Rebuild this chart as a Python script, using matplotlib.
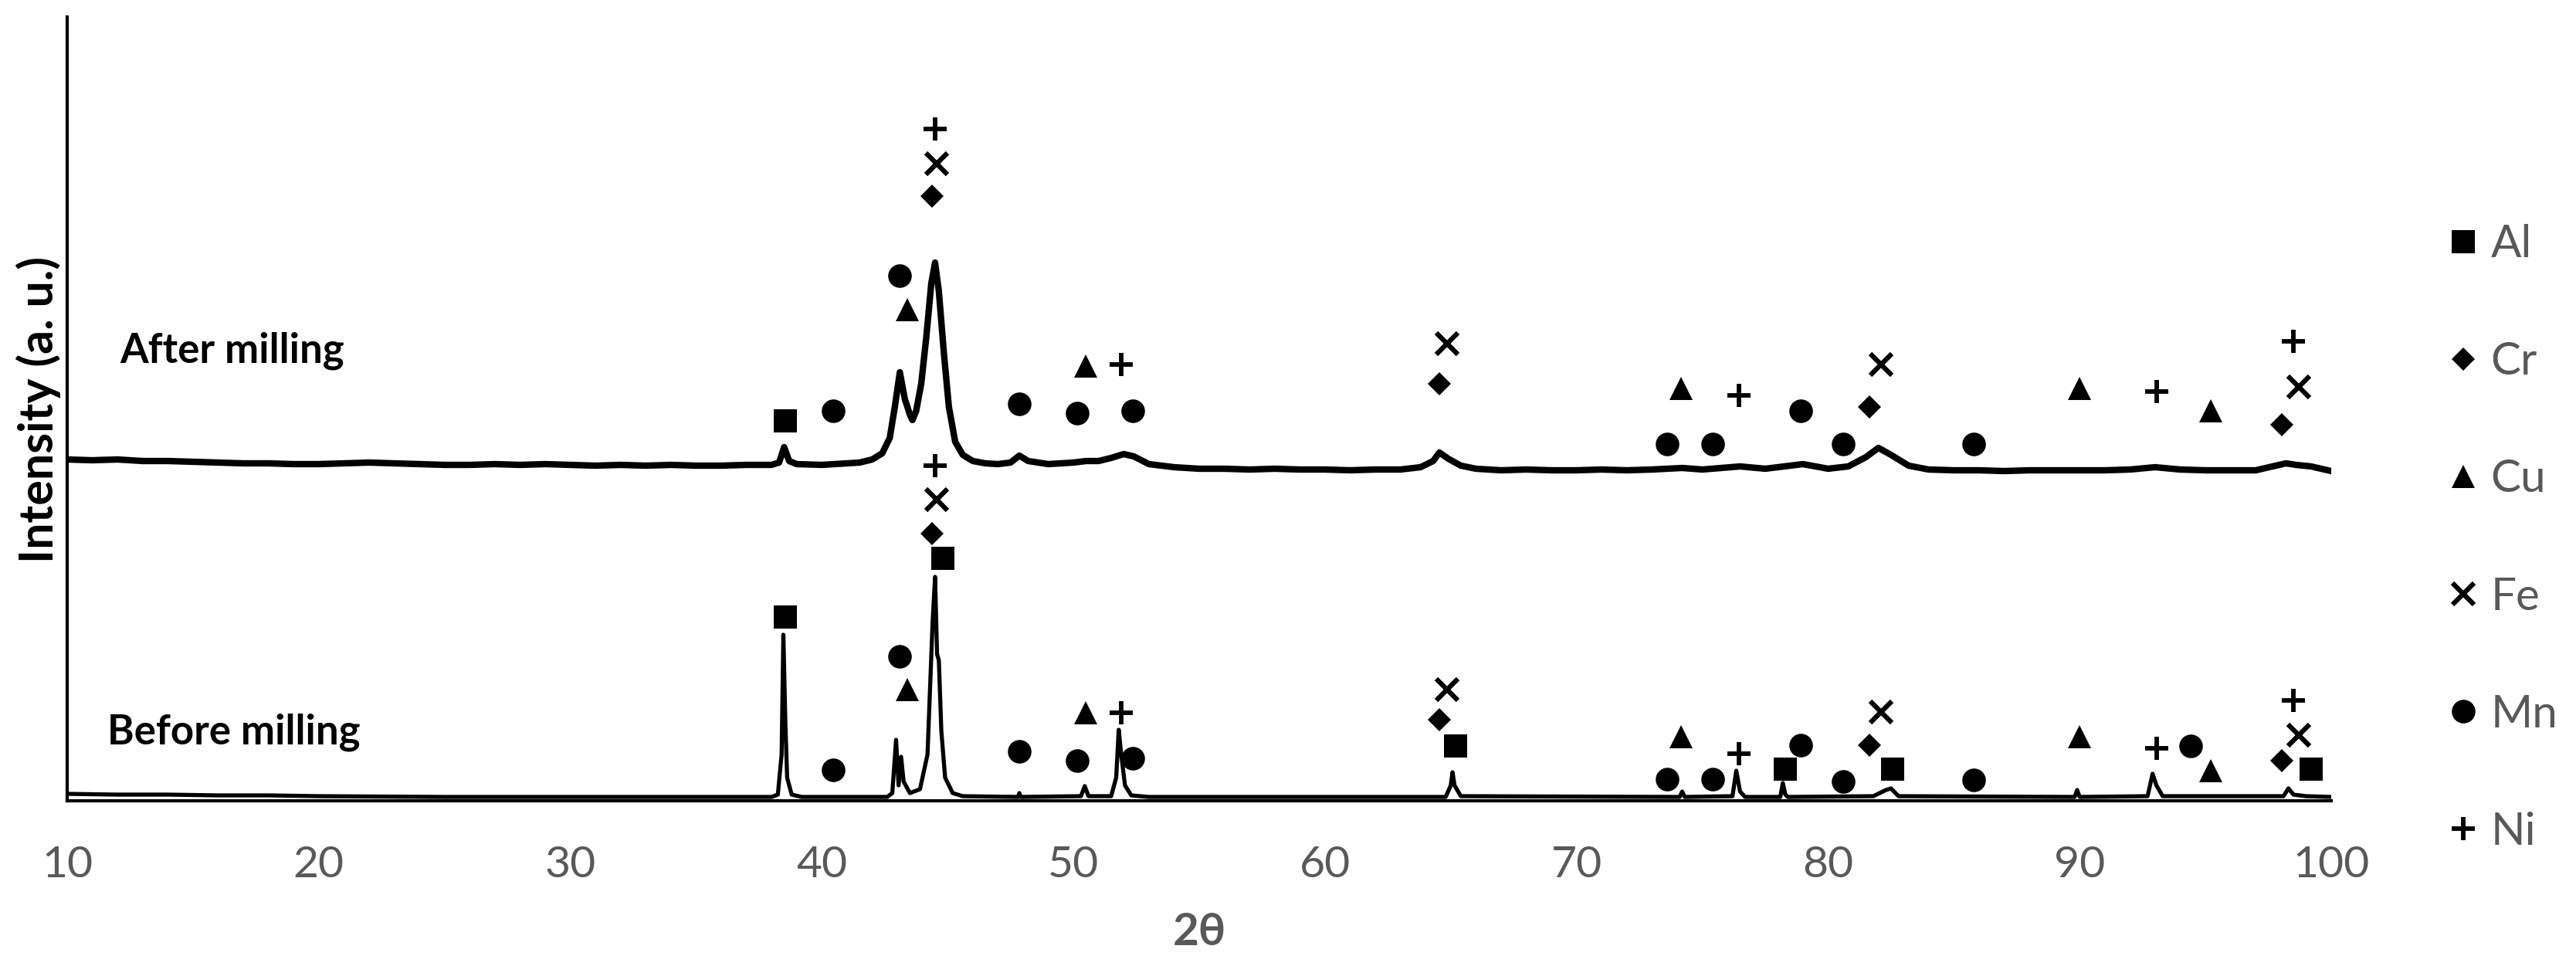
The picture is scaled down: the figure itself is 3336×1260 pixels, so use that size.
import matplotlib
matplotlib.use("Agg")
import matplotlib.pyplot as plt
from matplotlib.lines import Line2D

# ---------------- data ----------------
# After milling trace: 2theta and intensity (a.u.)
after_x = [10, 11, 12, 13, 14, 15, 16, 17, 18, 19, 20, 21, 22, 23, 24, 25, 26, 27, 28, 29,
           30, 31, 32, 33, 34, 35, 36, 37, 38, 38.3, 38.5, 38.7, 39, 40, 41, 41.5, 42, 42.4,
           42.7, 42.9, 43.1, 43.3, 43.5, 43.6, 43.75, 43.95, 44.15, 44.35, 44.5, 44.65, 44.85,
           45.05, 45.3, 45.6, 46, 46.5, 47, 47.5, 47.85, 48.2, 49, 50, 50.5, 51, 51.5, 52, 52.4,
           53, 54, 55, 56, 57, 58, 59, 60, 61, 62, 63, 63.8, 64.3, 64.55, 64.9, 65.4, 66, 67,
           68, 69, 70, 71, 72, 73, 74.2, 75, 76.5, 77.5, 79, 80, 80.8, 81.5, 82, 82.5, 83.2,
           84, 85, 86, 87, 88, 89, 90, 91, 92, 93, 94, 95, 96, 97, 98.2, 98.6, 99.2, 100]
after_y = [442, 441, 442, 440, 440, 439, 438, 437, 437, 436, 436, 437, 438, 437, 436, 435, 435, 436, 435, 436,
           435, 434, 435, 434, 435, 434, 434, 435, 435, 438, 458, 440, 436, 435, 437, 438, 442, 450,
           470, 510, 555, 520, 500, 493, 505, 540, 600, 670, 697, 660, 580,
           510, 465, 448, 440, 437, 436, 438, 447, 440, 436, 438, 440, 440, 444, 449, 446,
           436, 432, 430, 430, 429, 430, 429, 429, 428, 429, 429, 432, 440, 451, 443, 434, 430, 428,
           429, 428, 428, 429, 428, 429, 431, 429, 433, 430, 436, 430, 433, 445, 457, 448, 434,
           429, 428, 428, 427, 428, 428, 428, 428, 429, 432, 429, 428, 428, 428, 437, 435, 433, 427]

# Before milling trace
before_x = [10, 12, 14, 16, 18, 20, 25, 30, 35, 38.0, 38.25, 38.4, 38.47, 38.55, 38.62, 38.8, 39.2,
            42.6, 42.8, 42.95, 43.05, 43.15, 43.25, 43.5, 43.9, 44.2, 44.4, 44.5, 44.58, 44.65,
            44.75, 44.9, 45.2, 45.6, 47.8, 47.85, 47.9, 50.3, 50.45, 50.6, 51.5, 51.7, 51.8, 51.9,
            52.05, 52.3, 53, 64.8, 65.0, 65.07, 65.15, 65.4, 74.1, 74.2, 74.3, 76.2, 76.35, 76.5,
            76.7, 78.1, 78.2, 78.3, 78.4, 81.8, 82.3, 82.5, 82.8, 89.8, 89.9, 90.0, 92.7, 92.9,
            93.05, 93.3, 98.1, 98.3, 98.5, 99, 100]
before_y = [9, 8, 8, 7, 7, 6, 5, 5, 5, 5, 8, 60, 215, 100, 30, 8, 5,
            5, 10, 79, 20, 57, 25, 10, 15, 60, 230, 290, 190, 182,
            90, 30, 10, 6, 5, 10, 5, 6, 19, 6, 6, 30, 92, 60,
            20, 7, 5, 5, 20, 37, 20, 6, 5, 12, 5, 6, 39, 12,
            5, 5, 23, 8, 5, 6, 14, 16, 6, 5, 14, 5, 6, 35,
            20, 6, 6, 16, 8, 6, 5]

# Phase markers (2theta, marker height) for each element
elements = ["Al", "Cr", "Cu", "Fe", "Mn", "Ni"]
al_after_x, al_after_y = [38.55], [492]
al_before_x, al_before_y = [38.55, 44.8, 65.2, 78.3, 82.55, 99.2], [238, 314, 71, 41, 41, 41]
cr_after_x, cr_after_y = [44.38, 64.54, 81.65, 98.05], [783, 540, 510, 487]
cr_before_x, cr_before_y = [44.38, 64.54, 81.65, 98.05], [346, 105, 72, 52]
cu_after_x, cu_after_y = [43.4, 50.5, 74.15, 90.0, 95.2], [636, 563, 534, 534, 505]
cu_before_x, cu_before_y = [43.4, 50.5, 74.15, 90.0, 95.2], [144, 114, 83, 83, 39]
fe_after_x, fe_after_y = [44.57, 64.85, 82.1, 98.7], [825, 592, 565, 536]
fe_before_x, fe_before_y = [44.57, 64.85, 82.1, 98.7], [390, 144, 115, 85]
mn_after_x = [40.45, 43.1, 47.85, 50.15, 52.35, 73.6, 75.4, 78.9, 80.6, 85.8]
mn_after_y = [505, 680, 514, 502, 505, 462, 462, 505, 462, 462]
mn_before_x = [40.45, 43.1, 47.85, 50.15, 52.35, 73.6, 75.4, 78.9, 80.6, 85.8, 94.4]
mn_before_y = [40, 187, 64, 52, 55, 28, 28, 72, 25, 27, 71]
ni_after_x, ni_after_y = [44.5, 51.9, 76.45, 93.05, 98.5], [870, 565, 525, 530, 595]
ni_before_x, ni_before_y = [44.5, 51.9, 76.45, 93.05, 98.5], [434, 114, 61, 68, 130]

x_ticks = [10, 20, 30, 40, 50, 60, 70, 80, 90, 100]

# ---------------- styling ----------------
plt.rcParams["font.family"] = ["Lato", "DejaVu Sans"]
GRAY = "#595959"

fig = plt.figure(figsize=(33.36, 12.6), dpi=100)
ax = fig.add_axes([87 / 3336, 1 - 1037 / 1260, (3019 - 87) / 3336, (1037 - 22) / 1260])

ax.plot(after_x, after_y, color="black", lw=6, solid_joinstyle="round")
ax.plot(before_x, before_y, color="black", lw=3.8, solid_joinstyle="round")

styles = {
    "Al": dict(marker="s", ms=22, mew=0),
    "Cr": dict(marker="D", ms=15, mew=0),
    "Cu": dict(marker="^", ms=21, mew=0),
    "Fe": dict(marker="x", ms=20, mew=4.5),
    "Mn": dict(marker="o", ms=22, mew=0),
    "Ni": dict(marker="+", ms=21, mew=4.2),
}
series = {
    "Al": [(al_after_x, al_after_y), (al_before_x, al_before_y)],
    "Cr": [(cr_after_x, cr_after_y), (cr_before_x, cr_before_y)],
    "Cu": [(cu_after_x, cu_after_y), (cu_before_x, cu_before_y)],
    "Fe": [(fe_after_x, fe_after_y), (fe_before_x, fe_before_y)],
    "Mn": [(mn_after_x, mn_after_y), (mn_before_x, mn_before_y)],
    "Ni": [(ni_after_x, ni_after_y), (ni_before_x, ni_before_y)],
}
for el in elements:
    for xs, ys in series[el]:
        ax.plot(xs, ys, linestyle="none", color="black", mec="black", mfc="black",
                clip_on=False, **styles[el])

ax.set_xlim(10, 100)
ax.set_ylim(0, 1015)
ax.set_xticks(x_ticks)
ax.set_xticklabels([str(t) for t in x_ticks])
ax.set_yticks([])
ax.tick_params(axis="x", length=0, pad=42, labelsize=41, labelcolor=GRAY)
for s in ["top", "right"]:
    ax.spines[s].set_visible(False)
for s in ["left", "bottom"]:
    ax.spines[s].set_linewidth(3)
    ax.spines[s].set_color("black")

ax.text(12.1, 583, "After milling", fontsize=38, fontweight="bold", color="black",
        ha="left", va="center")
ax.text(11.6, 89, "Before milling", fontsize=38, fontweight="bold", color="black",
        ha="left", va="center")

fig.text(50 / 3336, 1 - 530 / 1260, "Intensity (a. u.)", rotation=90, fontsize=44,
         fontweight="bold", color="black", ha="center", va="center")
fig.text(1553 / 3336, 1 - 1208 / 1260, "2θ", fontsize=42, fontweight="bold", color=GRAY,
         ha="center", va="center")

handles = [Line2D([], [], linestyle="none", color="black", mfc="black", mec="black",
                  **styles[el]) for el in elements]
fig.legend(handles, elements, loc="center left", bbox_to_anchor=(3167 / 3336, 1 - 697 / 1260),
           frameon=False, fontsize=42, labelcolor=GRAY, handlelength=0.8,
           handletextpad=0.2, labelspacing=1.7, borderpad=0, borderaxespad=0)

fig.savefig("out.png", dpi=100)
